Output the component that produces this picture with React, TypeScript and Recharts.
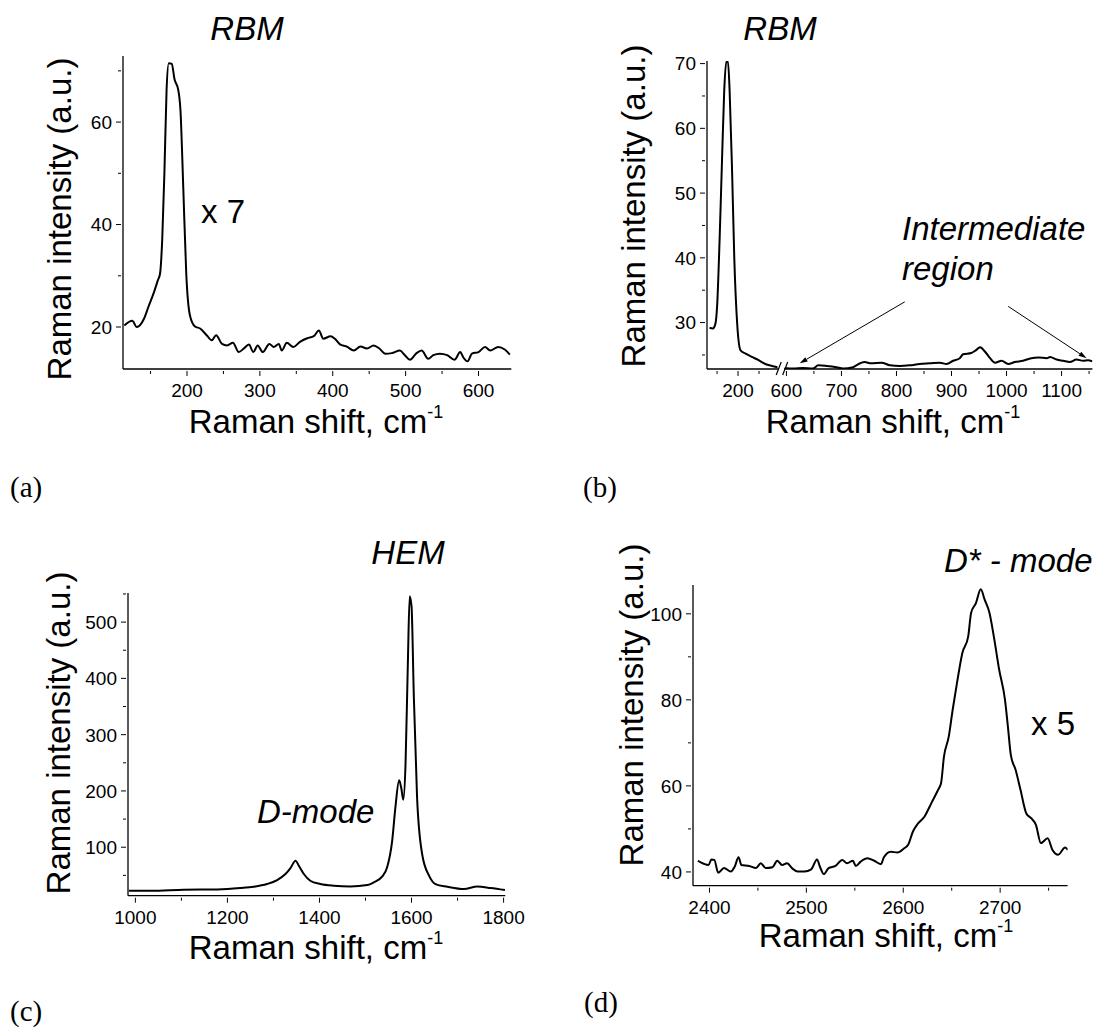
import React from "react";
import { LineChart, Line, XAxis, YAxis, ReferenceLine } from "recharts";

// (a) RBM region, x 7
const aShift = [114, 125, 131, 141, 147, 154, 160, 163, 166, 169, 172, 175, 179, 183, 188, 191, 195, 199, 204, 211, 218, 227, 234, 240, 248, 255, 263, 271, 278, 285, 291, 297, 304, 313, 319, 326, 330, 337, 346, 355, 365, 374, 381, 387, 397, 403, 410, 419, 429, 438, 447, 456, 464, 472, 481, 492, 499, 506, 515, 522, 531, 538, 547, 557, 567, 575, 579, 585, 591, 600, 609, 616, 627, 636, 643];
const aIntensity = [20.3, 21.2, 20, 21.6, 23.9, 26.5, 29.1, 30.4, 37, 50, 66.3, 71.5, 71.4, 68.3, 66.3, 62.4, 46.8, 30.4, 22.3, 20.1, 19.7, 18.4, 17.4, 18.4, 16.7, 16.4, 16.9, 15.1, 15.8, 16.6, 15.1, 16.4, 15.1, 16.7, 16.1, 16.7, 15.4, 16.9, 16.1, 17.1, 17.8, 18.2, 19.3, 17.7, 18.2, 17.7, 16.6, 16.2, 15.4, 16.2, 15.8, 16.4, 15.8, 14.8, 14.9, 15.4, 14.5, 13.6, 14.9, 15.4, 13.8, 14.5, 14.8, 14.5, 13.6, 15.1, 14.1, 13.3, 14.8, 15.1, 16.1, 15.4, 16.1, 15.6, 14.6];
const aXTicks = [150, 200, 250, 300, 350, 400, 450, 500, 550, 600];
const aXLabels = [200, 300, 400, 500, 600];
const aYTicks = [20, 30, 40, 50, 60, 70];
const aYLabels = [20, 40, 60];

// (b) RBM + intermediate region, broken axis
const bLeftShift = [132, 140, 146, 150, 156, 162, 167, 172, 176, 180, 186, 191, 198, 206, 218, 233, 249, 265, 281, 294];
const bLeftIntensity = [29.2, 29.1, 29.8, 32.4, 42.7, 55.5, 65.7, 70.3, 70.3, 65.7, 52.9, 40.1, 29.8, 25.7, 25.2, 24.7, 24.2, 23.6, 23.3, 23.1];
const bRightShift = [597, 612, 630, 648, 658, 673, 691, 703, 721, 727, 742, 754, 773, 788, 806, 824, 842, 861, 879, 891, 903, 915, 921, 936, 944, 952, 961, 970, 979, 991, 1003, 1015, 1030, 1045, 1058, 1073, 1079, 1091, 1103, 1115, 1127, 1139, 1148, 1156];
const bRightIntensity = [23.0, 22.9, 23.0, 22.9, 23.4, 23.3, 23.1, 22.9, 23.1, 23.4, 23.9, 23.7, 23.8, 23.4, 23.3, 23.4, 23.6, 23.7, 23.8, 23.6, 24.1, 24.5, 25.1, 25.3, 25.7, 26.2, 25.5, 24.5, 23.8, 24.1, 23.6, 23.9, 24.1, 24.5, 24.6, 24.5, 24.7, 24.3, 24.1, 23.9, 24.3, 24.1, 24.2, 24.0];
const bLeftXTicks = [150, 200, 250];
const bLeftXLabels = [200];
const bRightXTicks = [600, 650, 700, 750, 800, 850, 900, 950, 1000, 1050, 1100, 1150];
const bRightXLabels = [600, 700, 800, 900, 1000, 1100];
const bYTicks = [25, 30, 35, 40, 45, 50, 55, 60, 65, 70];
const bYLabels = [30, 40, 50, 60, 70];

// (c) HEM + D-mode
const cShift = [986, 1033, 1105, 1178, 1228, 1257, 1286, 1308, 1326, 1337, 1348, 1355, 1366, 1380, 1402, 1431, 1467, 1504, 1518, 1536, 1547, 1558, 1565, 1573, 1578, 1582, 1587, 1592, 1596, 1600, 1605, 1612, 1623, 1638, 1652, 1678, 1714, 1743, 1772, 1803];
const cIntensity = [22.7, 22.7, 24.5, 25.1, 27.5, 29.8, 34.6, 41.7, 52.4, 63, 76.2, 67.3, 52.4, 40.5, 34.6, 31.6, 30.4, 32.8, 37.6, 47.7, 64.3, 111.9, 171.3, 218.9, 204, 184.4, 248.6, 427, 546, 528, 367.5, 189, 88, 49.5, 34.6, 29.8, 25.7, 30.4, 27.5, 23.9];
const cXTicks = [1000, 1100, 1200, 1300, 1400, 1500, 1600, 1700, 1800];
const cXLabels = [1000, 1200, 1400, 1600, 1800];
const cYTicks = [50, 100, 150, 200, 250, 300, 350, 400, 450, 500, 550];
const cYLabels = [100, 200, 300, 400, 500];

// (d) D*-mode, x 5
const dShift = [2388, 2394, 2399, 2402, 2405, 2409, 2415, 2422, 2426, 2430, 2433, 2441, 2448, 2453, 2458, 2465, 2470, 2475, 2480, 2486, 2491, 2498, 2505, 2511, 2514, 2518, 2523, 2530, 2537, 2542, 2548, 2551, 2556, 2563, 2570, 2577, 2580, 2587, 2594, 2601, 2605, 2610, 2615, 2622, 2629, 2636, 2639, 2642, 2647, 2651, 2656, 2661, 2667, 2670, 2675, 2680, 2684, 2689, 2694, 2699, 2705, 2708, 2711, 2716, 2721, 2727, 2732, 2737, 2742, 2749, 2754, 2760, 2767, 2770];
const dIntensity = [42.6, 41.9, 41.6, 42.9, 42.8, 39.8, 40.9, 40.1, 41.2, 43.4, 41.6, 41.4, 40.9, 42.0, 40.9, 41.1, 42.6, 41.6, 42.0, 40.7, 40.1, 40.1, 40.6, 42.9, 41.2, 39.5, 40.9, 41.4, 42.8, 42.0, 42.6, 41.4, 42.4, 43.2, 42.6, 41.8, 43.4, 44.7, 44.5, 45.5, 46.3, 49.4, 51.2, 52.9, 56, 59.1, 60.6, 66.8, 71.5, 77.7, 84.7, 90.9, 94.7, 100.2, 102.5, 105.7, 103.3, 100.2, 94, 87, 80, 73.8, 67.2, 63.7, 59.1, 53.6, 52.5, 50.9, 46.7, 47.8, 45.1, 44, 45.7, 45.1];
const dXTicks = [2400, 2450, 2500, 2550, 2600, 2650, 2700, 2750];
const dXLabels = [2400, 2500, 2600, 2700];
const dYTicks = [40, 50, 60, 70, 80, 90, 100];
const dYLabels = [40, 60, 80, 100];

const SANS = "'Liberation Sans', Arial, sans-serif";
const SERIF = "'Liberation Serif', 'Times New Roman', serif";

const zip = (xs: number[], ys: number[]) => xs.map((x, i) => ({ x, y: ys[i] }));

const makeXTick = (labels: number[]) => (props: any) => {
  const { x, y, payload } = props;
  const major = labels.includes(payload.value);
  return (
    <g>
      <line x1={x} x2={x} y1={y} y2={y + (major ? 5 : 3)} stroke="#000" strokeWidth={1} />
      {major && (
        <text x={x} y={y + 26} textAnchor="middle" fontFamily={SANS} fontSize={19} fill="#000">
          {payload.value}
        </text>
      )}
    </g>
  );
};

const makeYTick = (labels: number[]) => (props: any) => {
  const { x, y, payload } = props;
  const major = labels.includes(payload.value);
  return (
    <g>
      <line x1={x} x2={x - (major ? 5 : 3)} y1={y} y2={y} stroke="#000" strokeWidth={1} />
      {major && (
        <text x={x - 9} y={y} dy="0.36em" textAnchor="end" fontFamily={SANS} fontSize={19} fill="#000">
          {payload.value}
        </text>
      )}
    </g>
  );
};

const Arrow = (p: any) => {
  const { x1, y1, x2, y2 } = p;
  const a = Math.atan2(y2 - y1, x2 - x1);
  const len = 8;
  const w = 2.5;
  const bx = x2 - len * Math.cos(a);
  const by = y2 - len * Math.sin(a);
  const pts = `${x2},${y2} ${bx + w * Math.sin(a)},${by - w * Math.cos(a)} ${bx - w * Math.sin(a)},${by + w * Math.cos(a)}`;
  return (
    <g>
      <line x1={x1} y1={y1} x2={bx} y2={by} stroke="#000" strokeWidth={1} />
      <polygon points={pts} fill="#000" />
    </g>
  );
};

type SpectrumProps = {
  data: { x: number; y: number }[];
  box: [number, number, number, number];
  xDomain: [number, number];
  yDomain: [number, number];
  xTicks: number[];
  xLabels: number[];
  yTicks: number[];
  yLabels: number[];
  hideY?: boolean;
  children?: React.ReactNode;
};

const Spectrum = ({ data, box, xDomain, yDomain, xTicks, xLabels, yTicks, yLabels, hideY, children }: SpectrumProps) => {
  const [left, top, right, bottom] = box;
  const L = 60;
  const T = 10;
  const R = 40;
  const B = 40;
  return (
    <div style={{ position: "absolute", left: left - L, top: top - T }}>
      <LineChart
        width={right - left + L + R}
        height={bottom - top + T + B}
        data={data}
        margin={{ top: T, right: R, bottom: 0, left: hideY ? L : 0 }}
      >
        <XAxis
          type="number"
          dataKey="x"
          domain={xDomain}
          ticks={xTicks}
          interval={0}
          allowDataOverflow
          height={B}
          tickSize={0}
          tickLine={false}
          tick={makeXTick(xLabels)}
          axisLine={{ stroke: "#000", strokeWidth: 1.3 }}
        />
        <YAxis
          type="number"
          domain={yDomain}
          ticks={yTicks}
          interval={0}
          allowDataOverflow
          width={L}
          hide={hideY}
          tickSize={0}
          tickLine={false}
          tick={makeYTick(yLabels)}
          axisLine={{ stroke: "#000", strokeWidth: 1.3 }}
        />
        <Line type="monotone" dataKey="y" stroke="#000" strokeWidth={2} dot={false} isAnimationActive={false} />
        {children}
      </LineChart>
    </div>
  );
};

const XLabel = ({ x, y }: { x: number; y: number }) => (
  <text x={x} y={y} textAnchor="middle" fontFamily={SANS} fontSize={33} fill="#000">
    Raman shift, cm
    <tspan dy={-15} fontSize={18}>-1</tspan>
  </text>
);

const YLabel = ({ x, y }: { x: number; y: number }) => (
  <text transform={`translate(${x},${y}) rotate(-90)`} textAnchor="middle" fontFamily={SANS} fontSize={33} fill="#000">
    Raman intensity (a.u.)
  </text>
);

export default function App() {
  return (
    <div style={{ position: "absolute", left: 0, top: 0, width: 1094, height: 1028, background: "#fff", overflow: "hidden" }}>
      <Spectrum
        data={zip(aShift, aIntensity)}
        box={[122.7, 56, 511, 369]}
        xDomain={[112.2, 645]}
        yDomain={[11.8, 72.9]}
        xTicks={aXTicks}
        xLabels={aXLabels}
        yTicks={aYTicks}
        yLabels={aYLabels}
      />
      <Spectrum
        data={zip(bLeftShift, bLeftIntensity)}
        box={[706.7, 61, 778.3, 369]}
        xDomain={[126, 296.7]}
        yDomain={[22.83, 70.4]}
        xTicks={bLeftXTicks}
        xLabels={bLeftXLabels}
        yTicks={bYTicks}
        yLabels={bYLabels}
      >
        <ReferenceLine segment={[{ x: 291, y: 21.9 }, { x: 303, y: 23.9 }]} stroke="#000" strokeWidth={1.2} ifOverflow="visible" />
      </Spectrum>
      <Spectrum
        data={zip(bRightShift, bRightIntensity)}
        box={[784.3, 61, 1092.7, 369]}
        xDomain={[595.6, 1156]}
        yDomain={[22.83, 70.4]}
        xTicks={bRightXTicks}
        xLabels={bRightXLabels}
        yTicks={bYTicks}
        yLabels={bYLabels}
        hideY
      >
        <ReferenceLine segment={[{ x: 593.2, y: 21.9 }, { x: 602.3, y: 23.9 }]} stroke="#000" strokeWidth={1.2} ifOverflow="visible" />
        <ReferenceLine segment={[{ x: 815, y: 33.2 }, { x: 624, y: 23.7 }]} ifOverflow="visible" shape={Arrow} />
        <ReferenceLine segment={[{ x: 1003, y: 32.5 }, { x: 1145.5, y: 24.5 }]} ifOverflow="visible" shape={Arrow} />
      </Spectrum>
      <Spectrum
        data={zip(cShift, cIntensity)}
        box={[127.7, 593.3, 505, 896]}
        xDomain={[984, 1803.7]}
        yDomain={[13.9, 551.7]}
        xTicks={cXTicks}
        xLabels={cXLabels}
        yTicks={cYTicks}
        yLabels={cYLabels}
      />
      <Spectrum
        data={zip(dShift, dIntensity)}
        box={[692.7, 585, 1067.3, 885.7]}
        xDomain={[2383, 2769.6]}
        yDomain={[36.8, 106.7]}
        xTicks={dXTicks}
        xLabels={dXLabels}
        yTicks={dYTicks}
        yLabels={dYLabels}
      />
      <svg width={1094} height={1028} style={{ position: "absolute", left: 0, top: 0, pointerEvents: "none" }}>
        <g fontFamily={SANS} fontSize={33} fill="#000">
          <text x={247} y={40} textAnchor="middle" fontStyle="italic">RBM</text>
          <text x={201} y={223}>x 7</text>
          <text x={780} y={40} textAnchor="middle" fontStyle="italic">RBM</text>
          <text x={902} y={240} fontStyle="italic">Intermediate</text>
          <text x={902} y={280} fontStyle="italic">region</text>
          <text x={408} y={564} textAnchor="middle" fontStyle="italic">HEM</text>
          <text x={257} y={823} fontStyle="italic">D-mode</text>
          <text x={944} y={572} fontStyle="italic">D* - mode</text>
          <text x={1031} y={735}>x 5</text>
        </g>
        <YLabel x={71} y={219} />
        <YLabel x={645} y={206} />
        <YLabel x={70} y={733} />
        <YLabel x={643} y={705} />
        <XLabel x={316} y={433} />
        <XLabel x={893} y={433} />
        <XLabel x={316} y={959} />
        <XLabel x={886} y={947} />
        <g fontFamily={SERIF} fontSize={29} fill="#000">
          <text x={10} y={497}>(a)</text>
          <text x={583} y={497}>(b)</text>
          <text x={10} y={1021}>(c)</text>
          <text x={584} y={1012}>(d)</text>
        </g>
      </svg>
    </div>
  );
}
